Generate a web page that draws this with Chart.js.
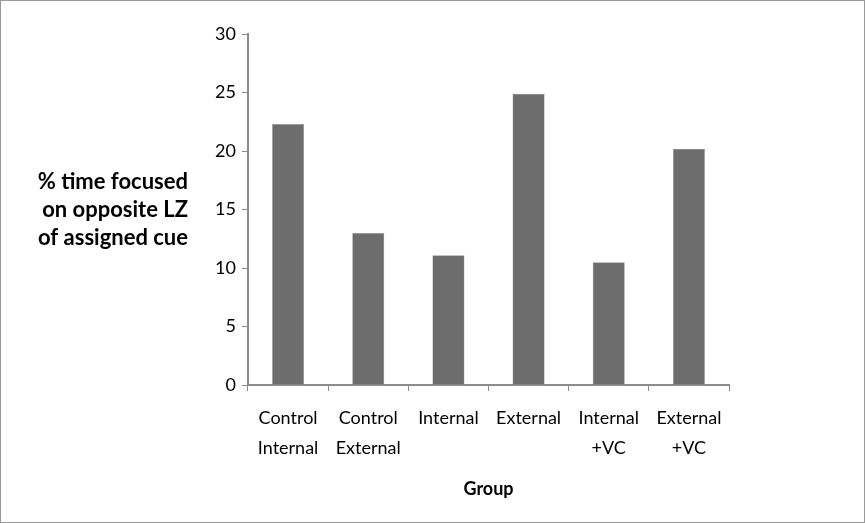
<!DOCTYPE html>
<html>
<head>
<meta charset="utf-8">
<script src="https://cdn.jsdelivr.net/npm/chart.js@4.4.1/dist/chart.umd.min.js"></script>
<style>
  html, body { margin: 0; padding: 0; background: #fff; }
  #wrap { width: 863px; height: 521px; border: 1px solid #9a9a9a; position: relative; }
</style>
</head>
<body>
<div id="wrap"><canvas id="chart" width="863" height="521"></canvas></div>
<script>
// data
const groups = [
  ['Control', 'Internal'],
  ['Control', 'External'],
  ['Internal'],
  ['External'],
  ['Internal', '+VC'],
  ['External', '+VC']
];
const percentTime = [22.3, 13.0, 11.1, 24.9, 10.5, 20.2];
const yTitleLines = ['% time focused', 'on opposite LZ', 'of assigned cue'];
const xTitle = 'Group';

const axisColor = '#8c8c8c';
const fontFamily = 'Lato, "Open Sans", sans-serif';

// horizontal y-axis title, right aligned like the original
const yTitlePlugin = {
  id: 'yTitle',
  afterDraw(chart) {
    const ctx = chart.ctx;
    ctx.save();
    ctx.font = 'bold 22px ' + fontFamily;
    ctx.fillStyle = '#000';
    ctx.textAlign = 'right';
    ctx.textBaseline = 'middle';
    yTitleLines.forEach((line, i) => {
      ctx.fillText(line, 187, 181 + i * 28);
    });
    ctx.restore();
  }
};

new Chart(document.getElementById('chart'), {
  type: 'bar',
  data: {
    labels: groups,
    datasets: [{
      data: percentTime,
      backgroundColor: '#6d6d6d',
      borderColor: '#9a9a9a',
      borderWidth: 0.5,
      categoryPercentage: 1,
      barPercentage: 0.4
    }]
  },
  options: {
    responsive: false,
    animation: false,
    layout: { padding: { top: 33, right: 135, bottom: 0, left: 0 } },
    plugins: { legend: { display: false }, tooltip: { enabled: false } },
    scales: {
      y: {
        min: 0,
        max: 30,
        ticks: { stepSize: 5, color: '#000', font: { family: fontFamily, size: 18 }, padding: 6 },
        grid: { display: true, drawOnChartArea: false, tickLength: 6, color: axisColor },
        border: { color: axisColor, width: 2 },
        afterFit(scale) { scale.width = 247; }
      },
      x: {
        offset: true,
        ticks: { color: '#000', font: { family: fontFamily, size: 18, lineHeight: 1.67 }, padding: 12, maxRotation: 0 },
        grid: { display: true, offset: true, drawOnChartArea: false, tickLength: 6, color: axisColor },
        border: { color: axisColor, width: 2 },
        title: { display: true, text: xTitle, color: '#000', font: { family: fontFamily, size: 18, weight: 'bold' }, padding: { top: 4, bottom: 22 } },
        afterFit(scale) { scale.height = 137; }
      }
    }
  },
  plugins: [yTitlePlugin]
});
</script>
</body>
</html>
